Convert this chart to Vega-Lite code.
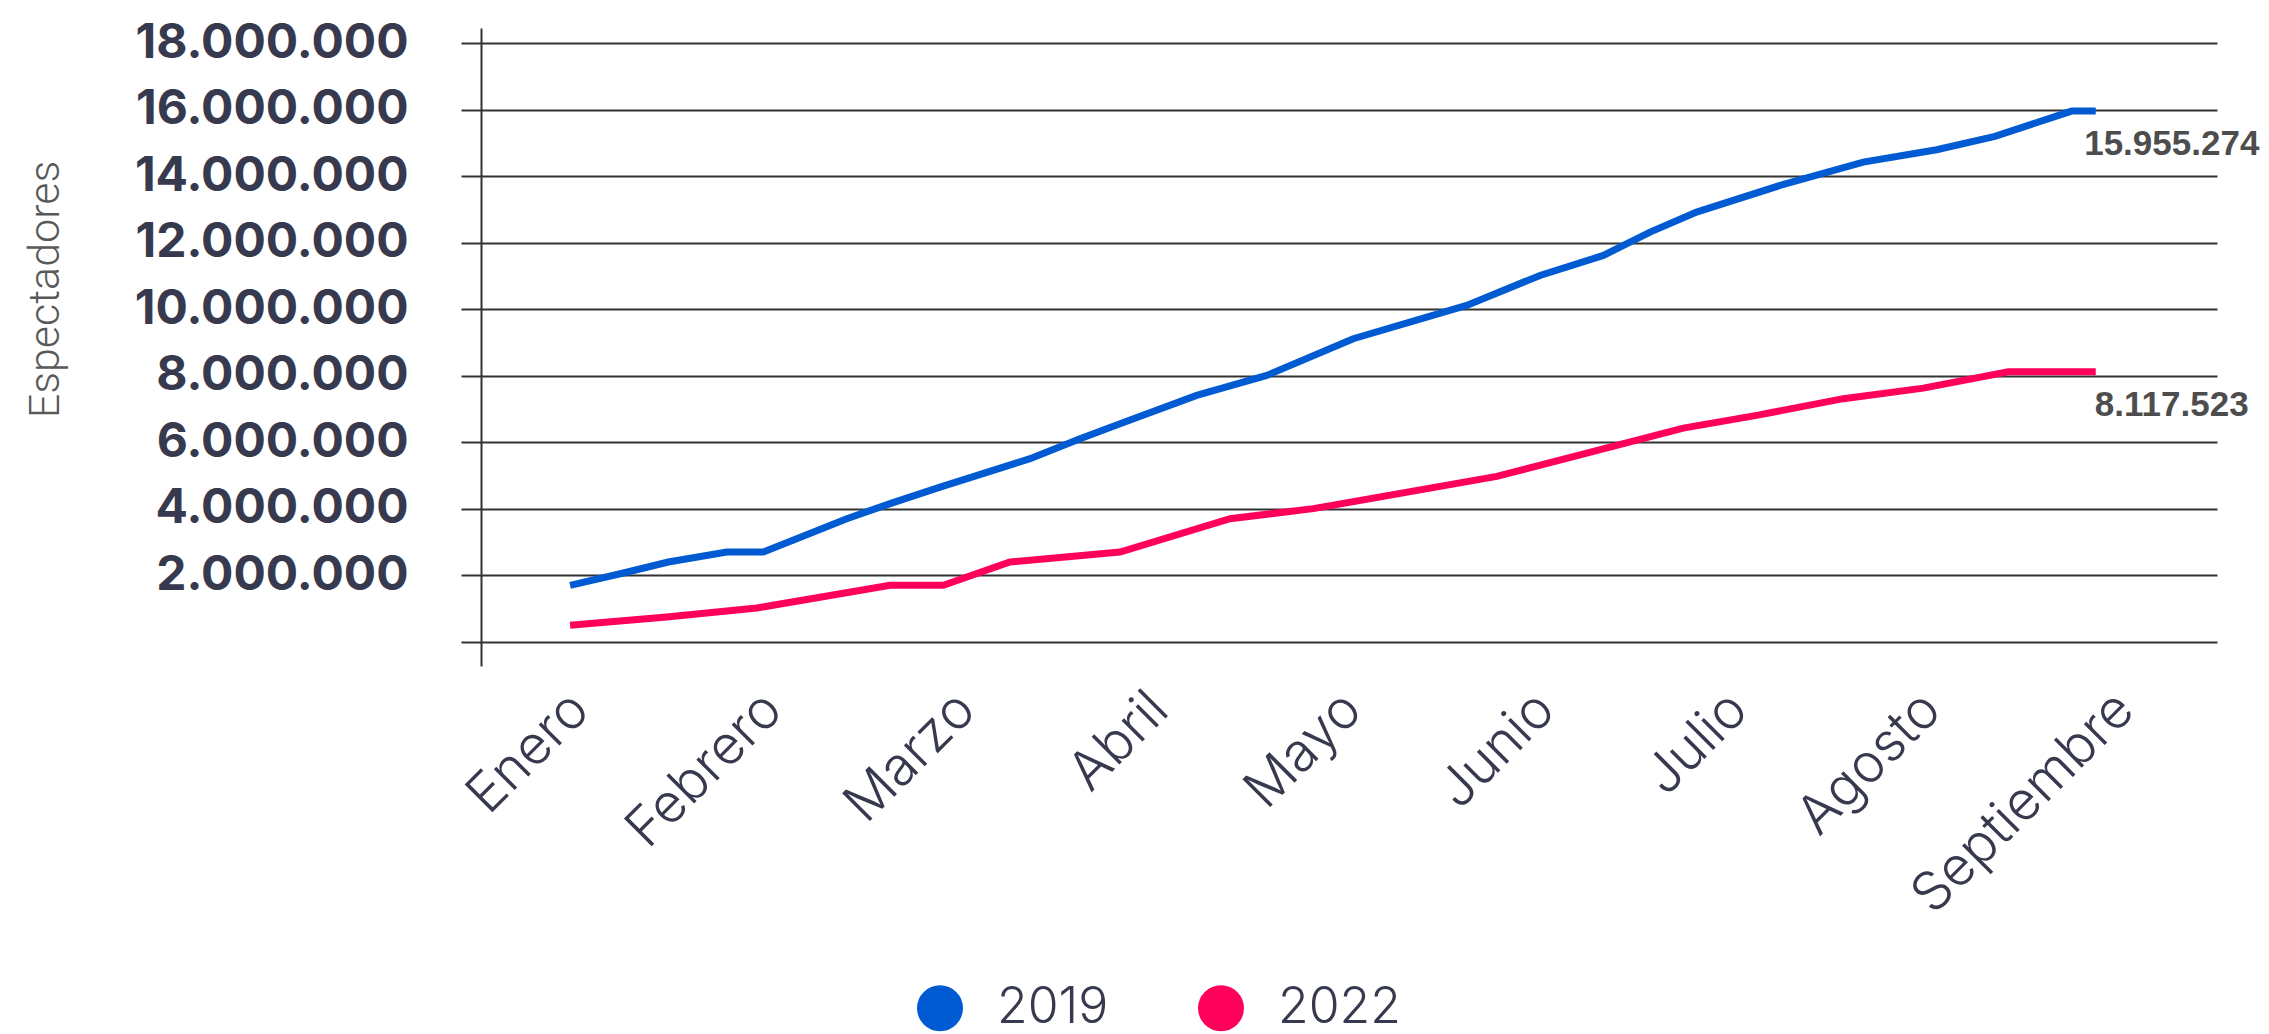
{
  "$schema": "https://vega.github.io/schema/vega-lite/v6.json",
  "width": 1736,
  "height": 638,
  "autosize": {"type": "none"},
  "padding": {"left": 481, "top": 28, "right": 52, "bottom": 368},
  "background": "white",
  "config": {"view": {"stroke": null}},
  "data": {
    "values": [
      {"mes": 1.047, "espectadores": 1698000, "anio": "2019"},
      {"mes": 1.323, "espectadores": 2068000, "anio": "2019"},
      {"mes": 1.556, "espectadores": 2398000, "anio": "2019"},
      {"mes": 1.858, "espectadores": 2699000, "anio": "2019"},
      {"mes": 2.048, "espectadores": 2699000, "anio": "2019"},
      {"mes": 2.480, "espectadores": 3702000, "anio": "2019"},
      {"mes": 2.704, "espectadores": 4153000, "anio": "2019"},
      {"mes": 2.963, "espectadores": 4652000, "anio": "2019"},
      {"mes": 3.429, "espectadores": 5506000, "anio": "2019"},
      {"mes": 3.688, "espectadores": 6107000, "anio": "2019"},
      {"mes": 3.895, "espectadores": 6557000, "anio": "2019"},
      {"mes": 4.292, "espectadores": 7408000, "anio": "2019"},
      {"mes": 4.655, "espectadores": 8009000, "anio": "2019"},
      {"mes": 5.103, "espectadores": 9112000, "anio": "2019"},
      {"mes": 5.690, "espectadores": 10113000, "anio": "2019"},
      {"mes": 6.070, "espectadores": 11014000, "anio": "2019"},
      {"mes": 6.398, "espectadores": 11615000, "anio": "2019"},
      {"mes": 6.640, "espectadores": 12316000, "anio": "2019"},
      {"mes": 6.881, "espectadores": 12917000, "anio": "2019"},
      {"mes": 7.313, "espectadores": 13719000, "anio": "2019"},
      {"mes": 7.744, "espectadores": 14419000, "anio": "2019"},
      {"mes": 8.124, "espectadores": 14792000, "anio": "2019"},
      {"mes": 8.426, "espectadores": 15192000, "anio": "2019"},
      {"mes": 8.823, "espectadores": 15955274, "anio": "2019"},
      {"mes": 8.948, "espectadores": 15955274, "anio": "2019"},
      {"mes": 1.047, "espectadores": 496000, "anio": "2022"},
      {"mes": 1.547, "espectadores": 745000, "anio": "2022"},
      {"mes": 2.014, "espectadores": 1016000, "anio": "2022"},
      {"mes": 2.704, "espectadores": 1698000, "anio": "2022"},
      {"mes": 2.980, "espectadores": 1698000, "anio": "2022"},
      {"mes": 3.325, "espectadores": 2398000, "anio": "2022"},
      {"mes": 3.895, "espectadores": 2699000, "anio": "2022"},
      {"mes": 4.465, "espectadores": 3702000, "anio": "2022"},
      {"mes": 4.896, "espectadores": 4003000, "anio": "2022"},
      {"mes": 5.846, "espectadores": 4974000, "anio": "2022"},
      {"mes": 6.812, "espectadores": 6425000, "anio": "2022"},
      {"mes": 7.192, "espectadores": 6807000, "anio": "2022"},
      {"mes": 7.641, "espectadores": 7309000, "anio": "2022"},
      {"mes": 8.055, "espectadores": 7627000, "anio": "2022"},
      {"mes": 8.495, "espectadores": 8117523, "anio": "2022"},
      {"mes": 8.948, "espectadores": 8117523, "anio": "2022"}
    ]
  },
  "encoding": {
    "x": {
      "field": "mes",
      "type": "quantitative",
      "scale": {"domain": [0.5857, 9.5759], "nice": false, "zero": false},
      "axis": {
        "values": [1, 2, 3, 4, 5, 6, 7, 8, 9],
        "labelExpr": "['Enero','Febrero','Marzo','Abril','Mayo','Junio','Julio','Agosto','Septiembre'][datum.value - 1]",
        "domain": false,
        "ticks": false,
        "tickSize": 0,
        "grid": false,
        "labelAngle": -45,
        "labelAlign": "right",
        "labelBaseline": "top",
        "labelPadding": 16,
        "labelFont": "Inter",
        "labelFontWeight": 300,
        "labelFontSize": 54,
        "labelColor": "#373a4e",
        "labelLimit": 0,
        "labelFlush": false,
        "labelOverlap": false,
        "labelBound": false,
        "title": null
      }
    },
    "y": {
      "field": "espectadores",
      "type": "quantitative",
      "scale": {"domain": [-727000, 18452000], "nice": false, "zero": false},
      "axis": {
        "values": [0, 2000000, 4000000, 6000000, 8000000, 10000000, 12000000, 14000000, 16000000, 18000000],
        "domainColor": "#333333",
        "domainWidth": 2,
        "tickColor": "#333333",
        "tickWidth": 2,
        "tickSize": 20,
        "grid": true,
        "gridColor": "#333333",
        "gridWidth": 2,
        "gridOpacity": 1,
        "labelFont": "Inter",
        "labelFontSize": 48,
        "labelFontWeight": "bold",
        "labelColor": "#373a4e",
        "labelPadding": 53,
        "labelLimit": 0,
        "labelFlush": false,
        "labelOverlap": false,
        "labelExpr": "datum.value == 0 ? '' : replace(replace(format(datum.value, ',d'), ',', '.'), ',', '.')",
        "title": "Espectadores",
        "titleFont": "Roboto",
        "titleFontWeight": 300,
        "titleFontSize": 43,
        "titleColor": "#595959",
        "titleAngle": -90,
        "titleX": -423,
        "titleY": 261,
        "titleAlign": "center",
        "titleBaseline": "alphabetic"
      }
    }
  },
  "layer": [
    {
      "mark": {"type": "line", "strokeWidth": 7},
      "encoding": {
        "color": {
          "field": "anio",
          "type": "nominal",
          "scale": {"domain": ["2019", "2022"], "range": ["#005bd3", "#ff005a"]},
          "legend": {
            "title": null,
            "orient": "none",
            "legendX": 434,
            "legendY": 955,
            "direction": "horizontal",
            "symbolType": "circle",
            "symbolSize": 529,
            "symbolStrokeWidth": 23,
            "labelFont": "Inter",
            "labelFontSize": 50,
            "labelFontWeight": 300,
            "labelColor": "#373a4e",
            "labelOffset": 32,
            "labelLimit": 0,
            "columnPadding": 54,
            "padding": 0
          }
        }
      }
    },
    {
      "transform": [
        {"filter": "datum.mes > 8.9"},
        {"calculate": "replace(replace(format(datum.espectadores, ',d'), ',', '.'), ',', '.')", "as": "etiqueta"}
      ],
      "mark": {
        "type": "text",
        "align": "center",
        "baseline": "middle",
        "dx": 76,
        "dy": 33,
        "font": "Liberation Sans",
        "fontSize": 35,
        "fontWeight": "bold",
        "color": "#4d4d4d"
      },
      "encoding": {"text": {"field": "etiqueta", "type": "nominal"}}
    }
  ]
}
